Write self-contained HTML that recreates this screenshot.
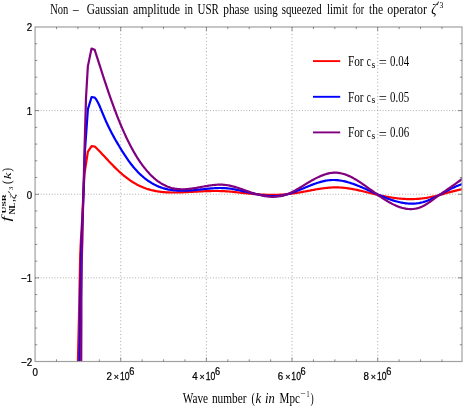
<!DOCTYPE html>
<html><head><meta charset="utf-8"><title>fNL plot</title>
<style>
html,body{margin:0;padding:0;background:#fff;}
body{width:463px;height:409px;overflow:hidden;font-family:"Liberation Serif",serif;}
svg{display:block;will-change:transform;}
text{white-space:pre;}
</style></head><body>
<svg width="463" height="409" viewBox="0 0 463 409">
<defs><clipPath id="c"><rect x="35.07" y="27.0" width="426.93" height="334.5"/></clipPath></defs>
<g id="grid">
<line x1="120.73" y1="27.0" x2="120.73" y2="361.5" stroke="#808080" stroke-width="0.7" stroke-dasharray="1 2.45"/>
<line x1="206.39" y1="27.0" x2="206.39" y2="361.5" stroke="#808080" stroke-width="0.7" stroke-dasharray="1 2.45"/>
<line x1="292.05" y1="27.0" x2="292.05" y2="361.5" stroke="#808080" stroke-width="0.7" stroke-dasharray="1 2.45"/>
<line x1="377.71" y1="27.0" x2="377.71" y2="361.5" stroke="#808080" stroke-width="0.7" stroke-dasharray="1 2.45"/>
<line x1="35.07" y1="110.62" x2="462.0" y2="110.62" stroke="#808080" stroke-width="0.7" stroke-dasharray="0.9 1.88"/>
<line x1="35.07" y1="194.25" x2="462.0" y2="194.25" stroke="#808080" stroke-width="0.7" stroke-dasharray="0.9 1.88"/>
<line x1="35.07" y1="277.88" x2="462.0" y2="277.88" stroke="#808080" stroke-width="0.7" stroke-dasharray="0.9 1.88"/>
</g>
<g clip-path="url(#c)" fill="none" stroke-width="2.2" stroke-linejoin="round" stroke-linecap="butt">
<path d="M77.90,361.50 L78.90,320.00 L79.30,300.00 L80.20,255.00 L80.90,240.00 L82.30,217.00 L83.30,195.00 L84.50,173.70 L87.90,151.70 L91.60,146.20 L94.80,146.48 L95.80,147.45 L96.80,148.45 L97.80,149.46 L98.80,150.48 L99.80,151.52 L100.80,152.57 L101.80,153.63 L102.80,154.70 L103.80,155.77 L104.80,156.84 L105.80,157.92 L106.80,159.00 L107.80,160.07 L108.80,161.14 L109.80,162.21 L110.80,163.27 L111.80,164.31 L112.80,165.35 L113.80,166.37 L114.80,167.37 L115.80,168.36 L116.80,169.33 L117.80,170.28 L118.80,171.21 L119.80,172.12 L120.80,173.01 L121.80,173.88 L122.80,174.74 L123.80,175.57 L124.80,176.38 L125.80,177.17 L126.80,177.94 L127.80,178.69 L128.80,179.41 L129.80,180.12 L130.80,180.80 L131.80,181.47 L132.80,182.11 L133.80,182.72 L134.80,183.32 L135.80,183.89 L136.80,184.44 L137.80,184.97 L138.80,185.47 L139.80,185.95 L140.80,186.41 L141.80,186.85 L142.80,187.27 L143.80,187.67 L144.80,188.05 L145.80,188.41 L146.80,188.76 L147.80,189.08 L148.80,189.39 L149.80,189.68 L150.80,189.95 L151.80,190.20 L152.80,190.44 L153.80,190.66 L154.80,190.87 L155.80,191.07 L156.80,191.25 L157.80,191.41 L158.80,191.56 L159.80,191.70 L160.80,191.83 L161.80,191.94 L162.80,192.04 L163.80,192.13 L164.80,192.21 L165.80,192.28 L166.80,192.34 L167.80,192.39 L168.80,192.43 L169.80,192.47 L170.80,192.49 L171.80,192.51 L172.80,192.52 L173.80,192.52 L174.80,192.51 L175.80,192.50 L176.80,192.49 L177.80,192.46 L178.80,192.44 L179.80,192.41 L180.80,192.37 L181.80,192.33 L182.80,192.29 L183.80,192.25 L184.80,192.20 L185.80,192.16 L186.80,192.11 L187.80,192.06 L188.80,192.01 L189.80,191.95 L190.80,191.90 L191.80,191.85 L192.80,191.79 L193.80,191.74 L194.80,191.69 L195.80,191.63 L196.80,191.58 L197.80,191.53 L198.80,191.48 L199.80,191.43 L200.80,191.38 L201.80,191.33 L202.80,191.29 L203.80,191.25 L204.80,191.21 L205.80,191.17 L206.80,191.13 L207.80,191.10 L208.80,191.07 L209.80,191.05 L210.80,191.03 L211.80,191.01 L212.80,190.99 L213.80,190.98 L214.80,190.98 L215.80,190.98 L216.80,190.98 L217.80,190.99 L218.80,191.01 L219.80,191.03 L220.80,191.05 L221.80,191.09 L222.80,191.12 L223.80,191.17 L224.80,191.22 L225.80,191.28 L226.80,191.34 L227.80,191.41 L228.80,191.49 L229.80,191.57 L230.80,191.66 L231.80,191.75 L232.80,191.85 L233.80,191.94 L234.80,192.05 L235.80,192.15 L236.80,192.26 L237.80,192.37 L238.80,192.48 L239.80,192.59 L240.80,192.70 L241.80,192.81 L242.80,192.92 L243.80,193.04 L244.80,193.15 L245.80,193.26 L246.80,193.36 L247.80,193.47 L248.80,193.57 L249.80,193.67 L250.80,193.76 L251.80,193.86 L252.80,193.95 L253.80,194.03 L254.80,194.12 L255.80,194.19 L256.80,194.27 L257.80,194.34 L258.80,194.41 L259.80,194.47 L260.80,194.53 L261.80,194.58 L262.80,194.63 L263.80,194.68 L264.80,194.72 L265.80,194.76 L266.80,194.79 L267.80,194.81 L268.80,194.84 L269.80,194.85 L270.80,194.86 L271.80,194.87 L272.80,194.87 L273.80,194.86 L274.80,194.85 L275.80,194.83 L276.80,194.81 L277.80,194.78 L278.80,194.74 L279.80,194.70 L280.80,194.65 L281.80,194.60 L282.80,194.54 L283.80,194.47 L284.80,194.39 L285.80,194.31 L286.80,194.22 L287.80,194.13 L288.80,194.02 L289.80,193.91 L290.80,193.79 L291.80,193.67 L292.80,193.53 L293.80,193.39 L294.80,193.25 L295.80,193.09 L296.80,192.93 L297.80,192.77 L298.80,192.60 L299.80,192.42 L300.80,192.25 L301.80,192.07 L302.80,191.88 L303.80,191.70 L304.80,191.51 L305.80,191.32 L306.80,191.13 L307.80,190.94 L308.80,190.75 L309.80,190.56 L310.80,190.37 L311.80,190.18 L312.80,189.99 L313.80,189.81 L314.80,189.63 L315.80,189.45 L316.80,189.28 L317.80,189.11 L318.80,188.95 L319.80,188.79 L320.80,188.64 L321.80,188.49 L322.80,188.35 L323.80,188.22 L324.80,188.10 L325.80,187.98 L326.80,187.87 L327.80,187.78 L328.80,187.69 L329.80,187.61 L330.80,187.54 L331.80,187.49 L332.80,187.44 L333.80,187.41 L334.80,187.39 L335.80,187.38 L336.80,187.39 L337.80,187.41 L338.80,187.45 L339.80,187.49 L340.80,187.55 L341.80,187.63 L342.80,187.71 L343.80,187.81 L344.80,187.91 L345.80,188.03 L346.80,188.16 L347.80,188.30 L348.80,188.44 L349.80,188.60 L350.80,188.76 L351.80,188.94 L352.80,189.12 L353.80,189.31 L354.80,189.50 L355.80,189.70 L356.80,189.91 L357.80,190.12 L358.80,190.34 L359.80,190.56 L360.80,190.79 L361.80,191.02 L362.80,191.25 L363.80,191.49 L364.80,191.72 L365.80,191.97 L366.80,192.21 L367.80,192.45 L368.80,192.70 L369.80,192.94 L370.80,193.19 L371.80,193.43 L372.80,193.68 L373.80,193.92 L374.80,194.16 L375.80,194.40 L376.80,194.63 L377.80,194.87 L378.80,195.10 L379.80,195.32 L380.80,195.55 L381.80,195.76 L382.80,195.97 L383.80,196.18 L384.80,196.38 L385.80,196.57 L386.80,196.76 L387.80,196.94 L388.80,197.12 L389.80,197.29 L390.80,197.45 L391.80,197.60 L392.80,197.75 L393.80,197.89 L394.80,198.03 L395.80,198.15 L396.80,198.27 L397.80,198.38 L398.80,198.49 L399.80,198.58 L400.80,198.67 L401.80,198.75 L402.80,198.83 L403.80,198.89 L404.80,198.95 L405.80,198.99 L406.80,199.03 L407.80,199.06 L408.80,199.08 L409.80,199.09 L410.80,199.10 L411.80,199.09 L412.80,199.08 L413.80,199.05 L414.80,199.02 L415.80,198.98 L416.80,198.92 L417.80,198.86 L418.80,198.79 L419.80,198.70 L420.80,198.61 L421.80,198.51 L422.80,198.39 L423.80,198.27 L424.80,198.13 L425.80,197.99 L426.80,197.83 L427.80,197.66 L428.80,197.48 L429.80,197.29 L430.80,197.09 L431.80,196.88 L432.80,196.66 L433.80,196.43 L434.80,196.20 L435.80,195.95 L436.80,195.70 L437.80,195.45 L438.80,195.19 L439.80,194.92 L440.80,194.65 L441.80,194.38 L442.80,194.10 L443.80,193.82 L444.80,193.54 L445.80,193.27 L446.80,192.99 L447.80,192.71 L448.80,192.43 L449.80,192.16 L450.80,191.88 L451.80,191.62 L452.80,191.35 L453.80,191.09 L454.80,190.84 L455.80,190.59 L456.80,190.35 L457.80,190.12 L458.80,189.89 L459.80,189.68 L460.80,189.47 L461.80,189.28 L462.80,189.09" stroke="#ff0000"/>
<path d="M79.50,361.50 L80.00,320.00 L80.20,300.00 L81.10,255.00 L81.60,240.00 L82.60,217.00 L83.40,195.00 L85.00,150.00 L87.90,109.10 L91.60,97.00 L94.80,97.60 L95.80,98.85 L96.80,100.41 L97.80,102.25 L98.80,104.30 L99.80,106.52 L100.80,108.87 L101.80,111.30 L102.80,113.75 L103.80,116.18 L104.80,118.55 L105.80,120.84 L106.80,123.05 L107.80,125.20 L108.80,127.28 L109.80,129.30 L110.80,131.27 L111.80,133.18 L112.80,135.05 L113.80,136.88 L114.80,138.67 L115.80,140.43 L116.80,142.17 L117.80,143.88 L118.80,145.56 L119.80,147.22 L120.80,148.86 L121.80,150.48 L122.80,152.08 L123.80,153.65 L124.80,155.19 L125.80,156.70 L126.80,158.18 L127.80,159.62 L128.80,161.03 L129.80,162.39 L130.80,163.72 L131.80,165.00 L132.80,166.25 L133.80,167.45 L134.80,168.62 L135.80,169.75 L136.80,170.85 L137.80,171.90 L138.80,172.92 L139.80,173.91 L140.80,174.86 L141.80,175.77 L142.80,176.65 L143.80,177.50 L144.80,178.32 L145.80,179.10 L146.80,179.85 L147.80,180.57 L148.80,181.26 L149.80,181.92 L150.80,182.55 L151.80,183.16 L152.80,183.73 L153.80,184.28 L154.80,184.80 L155.80,185.29 L156.80,185.76 L157.80,186.20 L158.80,186.62 L159.80,187.01 L160.80,187.38 L161.80,187.73 L162.80,188.06 L163.80,188.36 L164.80,188.64 L165.80,188.90 L166.80,189.14 L167.80,189.37 L168.80,189.57 L169.80,189.75 L170.80,189.92 L171.80,190.07 L172.80,190.20 L173.80,190.32 L174.80,190.42 L175.80,190.50 L176.80,190.58 L177.80,190.63 L178.80,190.68 L179.80,190.71 L180.80,190.73 L181.80,190.74 L182.80,190.74 L183.80,190.72 L184.80,190.70 L185.80,190.67 L186.80,190.63 L187.80,190.58 L188.80,190.52 L189.80,190.46 L190.80,190.39 L191.80,190.31 L192.80,190.23 L193.80,190.14 L194.80,190.05 L195.80,189.95 L196.80,189.85 L197.80,189.75 L198.80,189.65 L199.80,189.54 L200.80,189.44 L201.80,189.33 L202.80,189.23 L203.80,189.12 L204.80,189.01 L205.80,188.91 L206.80,188.81 L207.80,188.71 L208.80,188.62 L209.80,188.53 L210.80,188.44 L211.80,188.37 L212.80,188.29 L213.80,188.23 L214.80,188.17 L215.80,188.12 L216.80,188.08 L217.80,188.04 L218.80,188.02 L219.80,188.01 L220.80,188.01 L221.80,188.03 L222.80,188.05 L223.80,188.09 L224.80,188.15 L225.80,188.22 L226.80,188.30 L227.80,188.40 L228.80,188.51 L229.80,188.64 L230.80,188.77 L231.80,188.92 L232.80,189.08 L233.80,189.25 L234.80,189.42 L235.80,189.61 L236.80,189.80 L237.80,190.00 L238.80,190.21 L239.80,190.42 L240.80,190.64 L241.80,190.86 L242.80,191.09 L243.80,191.32 L244.80,191.55 L245.80,191.78 L246.80,192.02 L247.80,192.25 L248.80,192.48 L249.80,192.72 L250.80,192.95 L251.80,193.18 L252.80,193.40 L253.80,193.62 L254.80,193.84 L255.80,194.05 L256.80,194.26 L257.80,194.46 L258.80,194.65 L259.80,194.83 L260.80,195.01 L261.80,195.18 L262.80,195.33 L263.80,195.48 L264.80,195.61 L265.80,195.74 L266.80,195.85 L267.80,195.94 L268.80,196.02 L269.80,196.09 L270.80,196.14 L271.80,196.18 L272.80,196.20 L273.80,196.20 L274.80,196.18 L275.80,196.15 L276.80,196.09 L277.80,196.02 L278.80,195.92 L279.80,195.80 L280.80,195.66 L281.80,195.50 L282.80,195.32 L283.80,195.11 L284.80,194.89 L285.80,194.64 L286.80,194.38 L287.80,194.10 L288.80,193.81 L289.80,193.50 L290.80,193.17 L291.80,192.84 L292.80,192.49 L293.80,192.13 L294.80,191.76 L295.80,191.38 L296.80,190.99 L297.80,190.60 L298.80,190.20 L299.80,189.80 L300.80,189.39 L301.80,188.97 L302.80,188.56 L303.80,188.14 L304.80,187.73 L305.80,187.31 L306.80,186.90 L307.80,186.49 L308.80,186.08 L309.80,185.68 L310.80,185.28 L311.80,184.89 L312.80,184.51 L313.80,184.14 L314.80,183.78 L315.80,183.42 L316.80,183.08 L317.80,182.75 L318.80,182.44 L319.80,182.14 L320.80,181.85 L321.80,181.58 L322.80,181.33 L323.80,181.10 L324.80,180.89 L325.80,180.69 L326.80,180.52 L327.80,180.37 L328.80,180.25 L329.80,180.15 L330.80,180.07 L331.80,180.02 L332.80,179.99 L333.80,179.99 L334.80,180.02 L335.80,180.06 L336.80,180.13 L337.80,180.22 L338.80,180.33 L339.80,180.47 L340.80,180.62 L341.80,180.79 L342.80,180.98 L343.80,181.19 L344.80,181.42 L345.80,181.66 L346.80,181.92 L347.80,182.19 L348.80,182.48 L349.80,182.78 L350.80,183.10 L351.80,183.43 L352.80,183.77 L353.80,184.13 L354.80,184.49 L355.80,184.87 L356.80,185.25 L357.80,185.65 L358.80,186.05 L359.80,186.46 L360.80,186.88 L361.80,187.31 L362.80,187.74 L363.80,188.17 L364.80,188.61 L365.80,189.06 L366.80,189.51 L367.80,189.96 L368.80,190.41 L369.80,190.86 L370.80,191.32 L371.80,191.78 L372.80,192.23 L373.80,192.69 L374.80,193.14 L375.80,193.59 L376.80,194.04 L377.80,194.48 L378.80,194.92 L379.80,195.35 L380.80,195.78 L381.80,196.21 L382.80,196.63 L383.80,197.04 L384.80,197.44 L385.80,197.84 L386.80,198.22 L387.80,198.60 L388.80,198.97 L389.80,199.33 L390.80,199.68 L391.80,200.02 L392.80,200.34 L393.80,200.66 L394.80,200.96 L395.80,201.25 L396.80,201.52 L397.80,201.78 L398.80,202.03 L399.80,202.26 L400.80,202.48 L401.80,202.68 L402.80,202.86 L403.80,203.02 L404.80,203.17 L405.80,203.30 L406.80,203.41 L407.80,203.50 L408.80,203.58 L409.80,203.63 L410.80,203.66 L411.80,203.67 L412.80,203.65 L413.80,203.62 L414.80,203.56 L415.80,203.48 L416.80,203.37 L417.80,203.24 L418.80,203.09 L419.80,202.91 L420.80,202.70 L421.80,202.47 L422.80,202.21 L423.80,201.92 L424.80,201.61 L425.80,201.27 L426.80,200.91 L427.80,200.53 L428.80,200.12 L429.80,199.70 L430.80,199.27 L431.80,198.81 L432.80,198.34 L433.80,197.86 L434.80,197.36 L435.80,196.86 L436.80,196.34 L437.80,195.82 L438.80,195.29 L439.80,194.75 L440.80,194.21 L441.80,193.67 L442.80,193.12 L443.80,192.58 L444.80,192.04 L445.80,191.49 L446.80,190.96 L447.80,190.42 L448.80,189.90 L449.80,189.38 L450.80,188.87 L451.80,188.37 L452.80,187.89 L453.80,187.41 L454.80,186.95 L455.80,186.51 L456.80,186.09 L457.80,185.68 L458.80,185.29 L459.80,184.92 L460.80,184.58 L461.80,184.26 L462.80,183.97" stroke="#0000ff"/>
<path d="M81.20,361.50 L81.40,320.00 L81.40,300.00 L81.90,255.00 L82.40,240.00 L82.80,217.00 L83.40,195.00 L84.50,150.00 L86.00,98.00 L87.85,66.40 L91.50,48.60 L94.70,49.89 L95.70,52.98 L96.70,56.09 L97.70,59.20 L98.70,62.31 L99.70,65.42 L100.70,68.53 L101.70,71.63 L102.70,74.72 L103.70,77.80 L104.70,80.85 L105.70,83.89 L106.70,86.89 L107.70,89.87 L108.70,92.81 L109.70,95.71 L110.70,98.57 L111.70,101.39 L112.70,104.17 L113.70,106.90 L114.70,109.58 L115.70,112.22 L116.70,114.82 L117.70,117.37 L118.70,119.87 L119.70,122.33 L120.70,124.73 L121.70,127.10 L122.70,129.41 L123.70,131.68 L124.70,133.90 L125.70,136.07 L126.70,138.19 L127.70,140.26 L128.70,142.29 L129.70,144.26 L130.70,146.19 L131.70,148.06 L132.70,149.89 L133.70,151.67 L134.70,153.40 L135.70,155.08 L136.70,156.72 L137.70,158.31 L138.70,159.85 L139.70,161.35 L140.70,162.80 L141.70,164.21 L142.70,165.57 L143.70,166.89 L144.70,168.17 L145.70,169.41 L146.70,170.60 L147.70,171.75 L148.70,172.86 L149.70,173.93 L150.70,174.95 L151.70,175.94 L152.70,176.89 L153.70,177.80 L154.70,178.67 L155.70,179.50 L156.70,180.29 L157.70,181.05 L158.70,181.77 L159.70,182.45 L160.70,183.10 L161.70,183.71 L162.70,184.29 L163.70,184.83 L164.70,185.33 L165.70,185.81 L166.70,186.25 L167.70,186.66 L168.70,187.03 L169.70,187.38 L170.70,187.69 L171.70,187.97 L172.70,188.22 L173.70,188.44 L174.70,188.64 L175.70,188.80 L176.70,188.94 L177.70,189.06 L178.70,189.15 L179.70,189.21 L180.70,189.26 L181.70,189.28 L182.70,189.29 L183.70,189.27 L184.70,189.24 L185.70,189.19 L186.70,189.12 L187.70,189.04 L188.70,188.94 L189.70,188.83 L190.70,188.71 L191.70,188.58 L192.70,188.44 L193.70,188.29 L194.70,188.13 L195.70,187.97 L196.70,187.80 L197.70,187.62 L198.70,187.44 L199.70,187.26 L200.70,187.08 L201.70,186.89 L202.70,186.71 L203.70,186.53 L204.70,186.35 L205.70,186.17 L206.70,186.00 L207.70,185.84 L208.70,185.68 L209.70,185.53 L210.70,185.38 L211.70,185.25 L212.70,185.13 L213.70,185.02 L214.70,184.92 L215.70,184.84 L216.70,184.77 L217.70,184.71 L218.70,184.68 L219.70,184.66 L220.70,184.66 L221.70,184.68 L222.70,184.72 L223.70,184.78 L224.70,184.87 L225.70,184.98 L226.70,185.11 L227.70,185.27 L228.70,185.45 L229.70,185.64 L230.70,185.86 L231.70,186.09 L232.70,186.34 L233.70,186.61 L234.70,186.89 L235.70,187.18 L236.70,187.49 L237.70,187.80 L238.70,188.13 L239.70,188.46 L240.70,188.80 L241.70,189.14 L242.70,189.49 L243.70,189.85 L244.70,190.21 L245.70,190.56 L246.70,190.92 L247.70,191.28 L248.70,191.63 L249.70,191.98 L250.70,192.33 L251.70,192.67 L252.70,193.00 L253.70,193.33 L254.70,193.64 L255.70,193.95 L256.70,194.24 L257.70,194.52 L258.70,194.79 L259.70,195.04 L260.70,195.28 L261.70,195.51 L262.70,195.72 L263.70,195.91 L264.70,196.08 L265.70,196.24 L266.70,196.38 L267.70,196.50 L268.70,196.60 L269.70,196.68 L270.70,196.74 L271.70,196.78 L272.70,196.80 L273.70,196.79 L274.70,196.76 L275.70,196.71 L276.70,196.63 L277.70,196.53 L278.70,196.40 L279.70,196.24 L280.70,196.06 L281.70,195.85 L282.70,195.61 L283.70,195.34 L284.70,195.05 L285.70,194.72 L286.70,194.36 L287.70,193.98 L288.70,193.57 L289.70,193.14 L290.70,192.68 L291.70,192.20 L292.70,191.70 L293.70,191.18 L294.70,190.65 L295.70,190.10 L296.70,189.54 L297.70,188.96 L298.70,188.38 L299.70,187.79 L300.70,187.19 L301.70,186.58 L302.70,185.97 L303.70,185.36 L304.70,184.74 L305.70,184.13 L306.70,183.52 L307.70,182.91 L308.70,182.31 L309.70,181.72 L310.70,181.13 L311.70,180.56 L312.70,179.99 L313.70,179.44 L314.70,178.90 L315.70,178.38 L316.70,177.87 L317.70,177.38 L318.70,176.91 L319.70,176.45 L320.70,176.02 L321.70,175.61 L322.70,175.22 L323.70,174.85 L324.70,174.51 L325.70,174.19 L326.70,173.90 L327.70,173.64 L328.70,173.41 L329.70,173.20 L330.70,173.03 L331.70,172.89 L332.70,172.78 L333.70,172.71 L334.70,172.67 L335.70,172.67 L336.70,172.71 L337.70,172.79 L338.70,172.90 L339.70,173.05 L340.70,173.24 L341.70,173.46 L342.70,173.71 L343.70,174.00 L344.70,174.31 L345.70,174.66 L346.70,175.03 L347.70,175.44 L348.70,175.87 L349.70,176.32 L350.70,176.80 L351.70,177.30 L352.70,177.83 L353.70,178.38 L354.70,178.94 L355.70,179.52 L356.70,180.13 L357.70,180.74 L358.70,181.38 L359.70,182.03 L360.70,182.69 L361.70,183.36 L362.70,184.04 L363.70,184.74 L364.70,185.44 L365.70,186.15 L366.70,186.86 L367.70,187.58 L368.70,188.31 L369.70,189.03 L370.70,189.76 L371.70,190.49 L372.70,191.22 L373.70,191.95 L374.70,192.68 L375.70,193.40 L376.70,194.11 L377.70,194.82 L378.70,195.53 L379.70,196.22 L380.70,196.91 L381.70,197.58 L382.70,198.25 L383.70,198.90 L384.70,199.54 L385.70,200.17 L386.70,200.79 L387.70,201.38 L388.70,201.97 L389.70,202.53 L390.70,203.08 L391.70,203.61 L392.70,204.13 L393.70,204.62 L394.70,205.09 L395.70,205.54 L396.70,205.96 L397.70,206.37 L398.70,206.74 L399.70,207.10 L400.70,207.42 L401.70,207.72 L402.70,207.99 L403.70,208.24 L404.70,208.45 L405.70,208.64 L406.70,208.79 L407.70,208.91 L408.70,208.99 L409.70,209.05 L410.70,209.07 L411.70,209.05 L412.70,208.99 L413.70,208.90 L414.70,208.77 L415.70,208.61 L416.70,208.40 L417.70,208.15 L418.70,207.86 L419.70,207.53 L420.70,207.15 L421.70,206.73 L422.70,206.27 L423.70,205.76 L424.70,205.21 L425.70,204.62 L426.70,204.00 L427.70,203.36 L428.70,202.69 L429.70,201.99 L430.70,201.29 L431.70,200.57 L432.70,199.84 L433.70,199.10 L434.70,198.37 L435.70,197.64 L436.70,196.91 L437.70,196.20 L438.70,195.48 L439.70,194.77 L440.70,194.07 L441.70,193.37 L442.70,192.67 L443.70,191.98 L444.70,191.29 L445.70,190.60 L446.70,189.91 L447.70,189.22 L448.70,188.53 L449.70,187.85 L450.70,187.16 L451.70,186.47 L452.70,185.77 L453.70,185.08 L454.70,184.37 L455.70,183.67 L456.70,182.95 L457.70,182.22 L458.70,181.49 L459.70,180.75 L460.70,179.99 L461.70,179.22 L462.70,178.44" stroke="#800080"/>
</g>
<rect x="35.07" y="27.0" width="426.93" height="334.5" fill="none" stroke="#a0a0a0" stroke-width="1.2"/>
<g id="ticks">
<line x1="56.48" y1="361.5" x2="56.48" y2="359.3" stroke="#444" stroke-width="0.6"/>
<line x1="56.48" y1="27.0" x2="56.48" y2="29.2" stroke="#444" stroke-width="0.6"/>
<line x1="77.90" y1="361.5" x2="77.90" y2="359.3" stroke="#444" stroke-width="0.6"/>
<line x1="77.90" y1="27.0" x2="77.90" y2="29.2" stroke="#444" stroke-width="0.6"/>
<line x1="99.31" y1="361.5" x2="99.31" y2="359.3" stroke="#444" stroke-width="0.6"/>
<line x1="99.31" y1="27.0" x2="99.31" y2="29.2" stroke="#444" stroke-width="0.6"/>
<line x1="120.73" y1="361.5" x2="120.73" y2="357.5" stroke="#444" stroke-width="0.6"/>
<line x1="120.73" y1="27.0" x2="120.73" y2="31.0" stroke="#444" stroke-width="0.6"/>
<line x1="142.14" y1="361.5" x2="142.14" y2="359.3" stroke="#444" stroke-width="0.6"/>
<line x1="142.14" y1="27.0" x2="142.14" y2="29.2" stroke="#444" stroke-width="0.6"/>
<line x1="163.56" y1="361.5" x2="163.56" y2="359.3" stroke="#444" stroke-width="0.6"/>
<line x1="163.56" y1="27.0" x2="163.56" y2="29.2" stroke="#444" stroke-width="0.6"/>
<line x1="184.97" y1="361.5" x2="184.97" y2="359.3" stroke="#444" stroke-width="0.6"/>
<line x1="184.97" y1="27.0" x2="184.97" y2="29.2" stroke="#444" stroke-width="0.6"/>
<line x1="206.39" y1="361.5" x2="206.39" y2="357.5" stroke="#444" stroke-width="0.6"/>
<line x1="206.39" y1="27.0" x2="206.39" y2="31.0" stroke="#444" stroke-width="0.6"/>
<line x1="227.80" y1="361.5" x2="227.80" y2="359.3" stroke="#444" stroke-width="0.6"/>
<line x1="227.80" y1="27.0" x2="227.80" y2="29.2" stroke="#444" stroke-width="0.6"/>
<line x1="249.22" y1="361.5" x2="249.22" y2="359.3" stroke="#444" stroke-width="0.6"/>
<line x1="249.22" y1="27.0" x2="249.22" y2="29.2" stroke="#444" stroke-width="0.6"/>
<line x1="270.63" y1="361.5" x2="270.63" y2="359.3" stroke="#444" stroke-width="0.6"/>
<line x1="270.63" y1="27.0" x2="270.63" y2="29.2" stroke="#444" stroke-width="0.6"/>
<line x1="292.05" y1="361.5" x2="292.05" y2="357.5" stroke="#444" stroke-width="0.6"/>
<line x1="292.05" y1="27.0" x2="292.05" y2="31.0" stroke="#444" stroke-width="0.6"/>
<line x1="313.46" y1="361.5" x2="313.46" y2="359.3" stroke="#444" stroke-width="0.6"/>
<line x1="313.46" y1="27.0" x2="313.46" y2="29.2" stroke="#444" stroke-width="0.6"/>
<line x1="334.88" y1="361.5" x2="334.88" y2="359.3" stroke="#444" stroke-width="0.6"/>
<line x1="334.88" y1="27.0" x2="334.88" y2="29.2" stroke="#444" stroke-width="0.6"/>
<line x1="356.29" y1="361.5" x2="356.29" y2="359.3" stroke="#444" stroke-width="0.6"/>
<line x1="356.29" y1="27.0" x2="356.29" y2="29.2" stroke="#444" stroke-width="0.6"/>
<line x1="377.71" y1="361.5" x2="377.71" y2="357.5" stroke="#444" stroke-width="0.6"/>
<line x1="377.71" y1="27.0" x2="377.71" y2="31.0" stroke="#444" stroke-width="0.6"/>
<line x1="399.12" y1="361.5" x2="399.12" y2="359.3" stroke="#444" stroke-width="0.6"/>
<line x1="399.12" y1="27.0" x2="399.12" y2="29.2" stroke="#444" stroke-width="0.6"/>
<line x1="420.54" y1="361.5" x2="420.54" y2="359.3" stroke="#444" stroke-width="0.6"/>
<line x1="420.54" y1="27.0" x2="420.54" y2="29.2" stroke="#444" stroke-width="0.6"/>
<line x1="441.95" y1="361.5" x2="441.95" y2="359.3" stroke="#444" stroke-width="0.6"/>
<line x1="441.95" y1="27.0" x2="441.95" y2="29.2" stroke="#444" stroke-width="0.6"/>
<line x1="35.07" y1="344.77" x2="37.27" y2="344.77" stroke="#444" stroke-width="0.6"/>
<line x1="462.0" y1="344.77" x2="459.8" y2="344.77" stroke="#444" stroke-width="0.6"/>
<line x1="35.07" y1="328.05" x2="37.27" y2="328.05" stroke="#444" stroke-width="0.6"/>
<line x1="462.0" y1="328.05" x2="459.8" y2="328.05" stroke="#444" stroke-width="0.6"/>
<line x1="35.07" y1="311.33" x2="37.27" y2="311.33" stroke="#444" stroke-width="0.6"/>
<line x1="462.0" y1="311.33" x2="459.8" y2="311.33" stroke="#444" stroke-width="0.6"/>
<line x1="35.07" y1="294.60" x2="37.27" y2="294.60" stroke="#444" stroke-width="0.6"/>
<line x1="462.0" y1="294.60" x2="459.8" y2="294.60" stroke="#444" stroke-width="0.6"/>
<line x1="35.07" y1="277.88" x2="39.07" y2="277.88" stroke="#444" stroke-width="0.6"/>
<line x1="462.0" y1="277.88" x2="458.0" y2="277.88" stroke="#444" stroke-width="0.6"/>
<line x1="35.07" y1="261.15" x2="37.27" y2="261.15" stroke="#444" stroke-width="0.6"/>
<line x1="462.0" y1="261.15" x2="459.8" y2="261.15" stroke="#444" stroke-width="0.6"/>
<line x1="35.07" y1="244.43" x2="37.27" y2="244.43" stroke="#444" stroke-width="0.6"/>
<line x1="462.0" y1="244.43" x2="459.8" y2="244.43" stroke="#444" stroke-width="0.6"/>
<line x1="35.07" y1="227.70" x2="37.27" y2="227.70" stroke="#444" stroke-width="0.6"/>
<line x1="462.0" y1="227.70" x2="459.8" y2="227.70" stroke="#444" stroke-width="0.6"/>
<line x1="35.07" y1="210.98" x2="37.27" y2="210.98" stroke="#444" stroke-width="0.6"/>
<line x1="462.0" y1="210.98" x2="459.8" y2="210.98" stroke="#444" stroke-width="0.6"/>
<line x1="35.07" y1="194.25" x2="39.07" y2="194.25" stroke="#444" stroke-width="0.6"/>
<line x1="462.0" y1="194.25" x2="458.0" y2="194.25" stroke="#444" stroke-width="0.6"/>
<line x1="35.07" y1="177.53" x2="37.27" y2="177.53" stroke="#444" stroke-width="0.6"/>
<line x1="462.0" y1="177.53" x2="459.8" y2="177.53" stroke="#444" stroke-width="0.6"/>
<line x1="35.07" y1="160.80" x2="37.27" y2="160.80" stroke="#444" stroke-width="0.6"/>
<line x1="462.0" y1="160.80" x2="459.8" y2="160.80" stroke="#444" stroke-width="0.6"/>
<line x1="35.07" y1="144.08" x2="37.27" y2="144.08" stroke="#444" stroke-width="0.6"/>
<line x1="462.0" y1="144.08" x2="459.8" y2="144.08" stroke="#444" stroke-width="0.6"/>
<line x1="35.07" y1="127.35" x2="37.27" y2="127.35" stroke="#444" stroke-width="0.6"/>
<line x1="462.0" y1="127.35" x2="459.8" y2="127.35" stroke="#444" stroke-width="0.6"/>
<line x1="35.07" y1="110.63" x2="39.07" y2="110.63" stroke="#444" stroke-width="0.6"/>
<line x1="462.0" y1="110.63" x2="458.0" y2="110.63" stroke="#444" stroke-width="0.6"/>
<line x1="35.07" y1="93.90" x2="37.27" y2="93.90" stroke="#444" stroke-width="0.6"/>
<line x1="462.0" y1="93.90" x2="459.8" y2="93.90" stroke="#444" stroke-width="0.6"/>
<line x1="35.07" y1="77.18" x2="37.27" y2="77.18" stroke="#444" stroke-width="0.6"/>
<line x1="462.0" y1="77.18" x2="459.8" y2="77.18" stroke="#444" stroke-width="0.6"/>
<line x1="35.07" y1="60.45" x2="37.27" y2="60.45" stroke="#444" stroke-width="0.6"/>
<line x1="462.0" y1="60.45" x2="459.8" y2="60.45" stroke="#444" stroke-width="0.6"/>
<line x1="35.07" y1="43.73" x2="37.27" y2="43.73" stroke="#444" stroke-width="0.6"/>
<line x1="462.0" y1="43.73" x2="459.8" y2="43.73" stroke="#444" stroke-width="0.6"/>
</g>
<g id="ticklabels">
<g font-family="Liberation Sans, sans-serif" fill="#000" stroke="#000" stroke-width="0.25">
<text transform="translate(106.53,379.90) scale(0.9,1)" font-size="10.8" text-anchor="start">2</text>
<text transform="translate(116.43,379.60) scale(0.95,1)" font-size="9.4" text-anchor="middle">×</text>
<text transform="translate(120.03,379.90) scale(0.8,1)" font-size="10.8" text-anchor="start">10</text>
<text transform="translate(129.23,375.40) scale(0.9,1)" font-size="10.2" text-anchor="start">6</text>
<text transform="translate(192.19,379.90) scale(0.9,1)" font-size="10.8" text-anchor="start">4</text>
<text transform="translate(202.09,379.60) scale(0.95,1)" font-size="9.4" text-anchor="middle">×</text>
<text transform="translate(205.69,379.90) scale(0.8,1)" font-size="10.8" text-anchor="start">10</text>
<text transform="translate(214.89,375.40) scale(0.9,1)" font-size="10.2" text-anchor="start">6</text>
<text transform="translate(277.85,379.90) scale(0.9,1)" font-size="10.8" text-anchor="start">6</text>
<text transform="translate(287.75,379.60) scale(0.95,1)" font-size="9.4" text-anchor="middle">×</text>
<text transform="translate(291.35,379.90) scale(0.8,1)" font-size="10.8" text-anchor="start">10</text>
<text transform="translate(300.55,375.40) scale(0.9,1)" font-size="10.2" text-anchor="start">6</text>
<text transform="translate(363.51,379.90) scale(0.9,1)" font-size="10.8" text-anchor="start">8</text>
<text transform="translate(373.41,379.60) scale(0.95,1)" font-size="9.4" text-anchor="middle">×</text>
<text transform="translate(377.01,379.90) scale(0.8,1)" font-size="10.8" text-anchor="start">10</text>
<text transform="translate(386.21,375.40) scale(0.9,1)" font-size="10.2" text-anchor="start">6</text>
<text transform="translate(32.57,376.10) scale(0.9,1)" font-size="10.8" text-anchor="start">0</text>
<text transform="translate(32.17,31.30) scale(0.9,1)" font-size="10.8" text-anchor="end">2</text>
<text transform="translate(32.17,114.92) scale(0.9,1)" font-size="10.8" text-anchor="end">1</text>
<text transform="translate(32.17,198.55) scale(0.9,1)" font-size="10.8" text-anchor="end">0</text>
<text transform="translate(32.17,282.18) scale(0.9,1)" font-size="10.8" text-anchor="end">−1</text>
<text transform="translate(32.17,365.80) scale(0.9,1)" font-size="10.8" text-anchor="end">−2</text>
</g>
</g>
<g stroke-width="1.9">
<line x1="313" y1="61.1" x2="340.2" y2="61.1" stroke="#ff0000"/>
<line x1="313" y1="96.8" x2="340.2" y2="96.8" stroke="#0000ff"/>
<line x1="313" y1="132.4" x2="340.2" y2="132.4" stroke="#800080"/>
</g>
<g font-family="Liberation Serif, serif" fill="#000">
<text x="50.2" y="13.8" font-size="14.6" textLength="18.10" lengthAdjust="spacingAndGlyphs" >Non</text>
<text x="72.1" y="14.8" font-size="14.6" textLength="7.20" lengthAdjust="spacingAndGlyphs" >−</text>
<text x="86.8" y="13.8" font-size="14.6" textLength="41.70" lengthAdjust="spacingAndGlyphs" >Gaussian</text>
<text x="133" y="13.8" font-size="14.6" textLength="47.10" lengthAdjust="spacingAndGlyphs" >amplitude</text>
<text x="184.5" y="13.8" font-size="14.6" textLength="8.50" lengthAdjust="spacingAndGlyphs" >in</text>
<text x="197.5" y="13.8" font-size="14.6" textLength="21.40" lengthAdjust="spacingAndGlyphs" >USR</text>
<text x="223.2" y="13.8" font-size="14.6" textLength="26.00" lengthAdjust="spacingAndGlyphs" >phase</text>
<text x="254" y="13.8" font-size="14.6" textLength="23.70" lengthAdjust="spacingAndGlyphs" >using</text>
<text x="281.7" y="13.8" font-size="14.6" textLength="39.90" lengthAdjust="spacingAndGlyphs" >squeezed</text>
<text x="326.9" y="13.8" font-size="14.6" textLength="21.00" lengthAdjust="spacingAndGlyphs" >limit</text>
<text x="352.5" y="13.8" font-size="14.6" textLength="11.60" lengthAdjust="spacingAndGlyphs" >for</text>
<text x="369.1" y="13.8" font-size="14.6" textLength="14.00" lengthAdjust="spacingAndGlyphs" >the</text>
<text x="387.3" y="13.8" font-size="14.6" textLength="39.70" lengthAdjust="spacingAndGlyphs" >operator</text>
<text x="431.2" y="13.8" font-size="14.6" textLength="5.20" lengthAdjust="spacingAndGlyphs" font-style="italic">ζ</text>
<line x1="438.5" y1="1.6" x2="437.2" y2="5.0" stroke="#000" stroke-width="0.9"/>
<text x="439.5" y="8.4" font-size="9.0" textLength="3.90" lengthAdjust="spacingAndGlyphs" >3</text>
<text x="348.0" y="66.0" font-size="14.6" textLength="15.60" lengthAdjust="spacingAndGlyphs" >For</text>
<text x="366.8" y="66.0" font-size="14.6" textLength="4.10" lengthAdjust="spacingAndGlyphs" >c</text>
<text x="371.4" y="67.6" font-size="10" textLength="3.80" lengthAdjust="spacingAndGlyphs" >s</text>
<text x="378.7" y="67.4" font-size="14.6" textLength="8.10" lengthAdjust="spacingAndGlyphs" >=</text>
<text x="390.1" y="66.0" font-size="14.6" textLength="19.00" lengthAdjust="spacingAndGlyphs" >0.04</text>
<text x="348.0" y="101.7" font-size="14.6" textLength="15.60" lengthAdjust="spacingAndGlyphs" >For</text>
<text x="366.8" y="101.7" font-size="14.6" textLength="4.10" lengthAdjust="spacingAndGlyphs" >c</text>
<text x="371.4" y="103.3" font-size="10" textLength="3.80" lengthAdjust="spacingAndGlyphs" >s</text>
<text x="378.7" y="103.10000000000001" font-size="14.6" textLength="8.10" lengthAdjust="spacingAndGlyphs" >=</text>
<text x="390.1" y="101.7" font-size="14.6" textLength="19.00" lengthAdjust="spacingAndGlyphs" >0.05</text>
<text x="348.0" y="137.3" font-size="14.6" textLength="15.60" lengthAdjust="spacingAndGlyphs" >For</text>
<text x="366.8" y="137.3" font-size="14.6" textLength="4.10" lengthAdjust="spacingAndGlyphs" >c</text>
<text x="371.4" y="138.9" font-size="10" textLength="3.80" lengthAdjust="spacingAndGlyphs" >s</text>
<text x="378.7" y="138.70000000000002" font-size="14.6" textLength="8.10" lengthAdjust="spacingAndGlyphs" >=</text>
<text x="390.1" y="137.3" font-size="14.6" textLength="19.00" lengthAdjust="spacingAndGlyphs" >0.06</text>
<text x="182.8" y="402.7" font-size="14.6" textLength="25.30" lengthAdjust="spacingAndGlyphs" >Wave</text>
<text x="211.9" y="402.7" font-size="14.6" textLength="34.60" lengthAdjust="spacingAndGlyphs" >number</text>
<text x="251.5" y="402.7" font-size="14.6" textLength="3.40" lengthAdjust="spacingAndGlyphs" >(</text>
<text x="255.5" y="402.7" font-size="14.6" textLength="5.70" lengthAdjust="spacingAndGlyphs" font-style="italic">k</text>
<text x="265" y="402.7" font-size="14.6" textLength="9.80" lengthAdjust="spacingAndGlyphs" font-style="italic">in</text>
<text x="279.6" y="402.7" font-size="14.6" textLength="20.30" lengthAdjust="spacingAndGlyphs" >Mpc</text>
<text x="310.5" y="402.7" font-size="14.6" textLength="3.20" lengthAdjust="spacingAndGlyphs" >)</text>
<text x="300.2" y="397.0" font-size="9.4" textLength="5.30" lengthAdjust="spacingAndGlyphs" >−</text>
<text x="306.4" y="396.9" font-size="9.0" textLength="3.00" lengthAdjust="spacingAndGlyphs" >1</text>
</g>
<g font-family="Liberation Serif, serif" fill="#000">
<text transform="translate(10.4,221.4) rotate(-90)" font-size="11.8" textLength="5.20" lengthAdjust="spacingAndGlyphs" font-style="italic">f</text>
<text transform="translate(5.8,213.4) rotate(-90)" font-size="6.8" textLength="19.10" lengthAdjust="spacingAndGlyphs" font-weight="bold">USR</text>
<text transform="translate(14.9,214.6) rotate(-90)" font-size="7.6" textLength="11.90" lengthAdjust="spacingAndGlyphs" font-weight="bold">NL</text>
<text transform="translate(14.6,201.6) rotate(-90)" font-size="9.5" textLength="2.00" lengthAdjust="spacingAndGlyphs" font-weight="bold">,</text>
<text transform="translate(15.6,199.2) rotate(-90)" font-size="8.4" textLength="5.60" lengthAdjust="spacingAndGlyphs" font-style="italic">ζ</text>
<line x1="7.9" y1="191.5" x2="10.0" y2="192.6" stroke="#000" stroke-width="0.8"/>
<text transform="translate(12.9,190.2) rotate(-90)" font-size="6.4" textLength="3.50" lengthAdjust="spacingAndGlyphs" >3</text>
<text transform="translate(10.6,184.0) rotate(-90)" font-size="12.6" textLength="3.60" lengthAdjust="spacingAndGlyphs" >(</text>
<text transform="translate(10.9,179.3) rotate(-90)" font-size="10.6" textLength="6.70" lengthAdjust="spacingAndGlyphs" font-style="italic">k</text>
<text transform="translate(10.6,171.4) rotate(-90)" font-size="12.6" textLength="3.60" lengthAdjust="spacingAndGlyphs" >)</text>
</g>
</svg>
</body></html>
